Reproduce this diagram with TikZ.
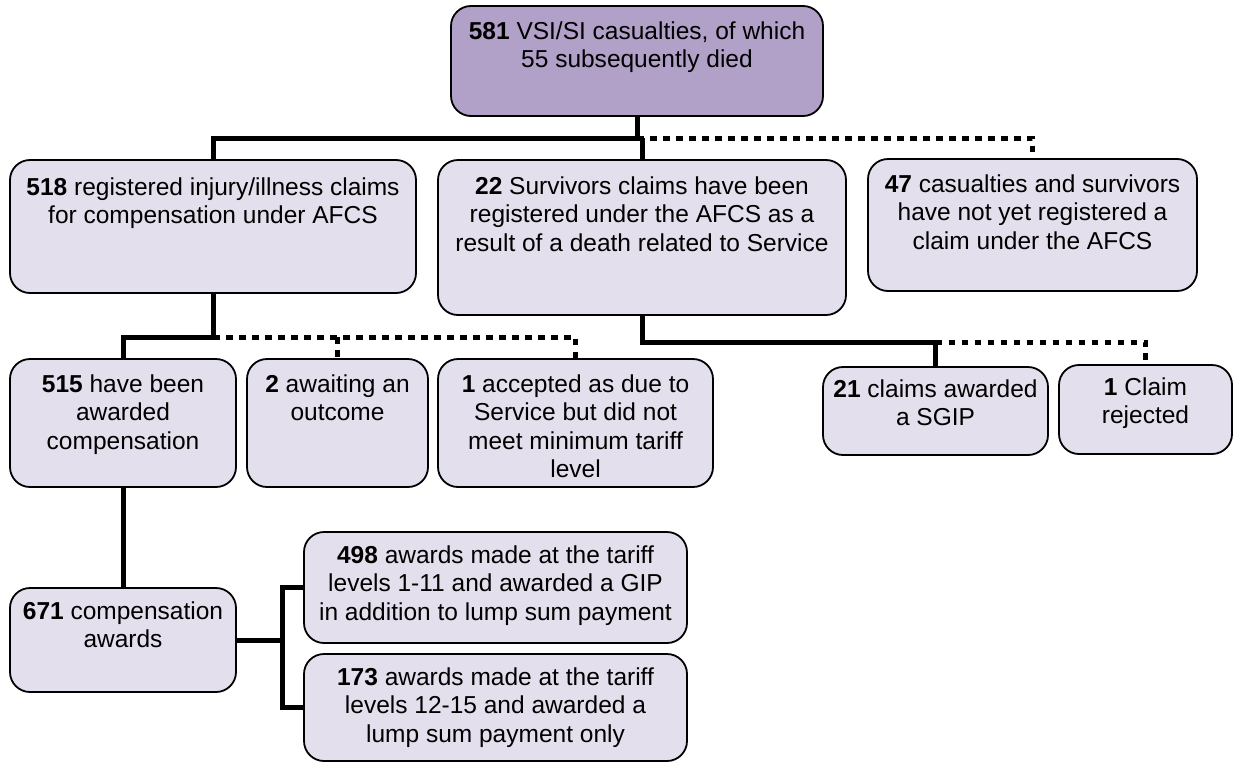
\documentclass[tikz,border=0pt]{standalone}
\usepackage{fontspec}
\setmainfont{Liberation Sans}
\usetikzlibrary{fit}
\definecolor{boxfill}{HTML}{E4DFEC}
\definecolor{topfill}{HTML}{B1A0C7}
\begin{document}
\begin{tikzpicture}[x=0.5bp,y=-0.5bp,
  box/.style={draw=black, line width=0.9bp, fill=boxfill, rounded corners=10bp, inner sep=0pt},
  topbox/.style={box, fill=topfill},
  txt/.style={anchor=north, inner sep=0pt, align=center, font=\fontsize{12.25bp}{14.25bp}\selectfont},
  conn/.style={line width=2.5bp, line join=miter},
  dotline/.style={line width=2.5bp, dash pattern=on 3.3bp off 3.2bp}]
\useasboundingbox (0,0) rectangle (1234,763);

% boxes
\node[topbox, fit={(451,6) (823,116)}] (T) {};
\node[box, fit={(10,160) (416,293)}] (A) {};
\node[box, fit={(438,160) (846,315)}] (B) {};
\node[box, fit={(868,159) (1197,291)}] (C) {};
\node[box, fit={(10,359) (236,487)}] (D) {};
\node[box, fit={(247,359) (428,487)}] (E) {};
\node[box, fit={(438,359) (713,487)}] (F) {};
\node[box, fit={(823,367) (1048,455)}] (G) {};
\node[box, fit={(1059,365) (1232,454)}] (H) {};
\node[box, fit={(10,588) (236,692)}] (I) {};
\node[box, fit={(304,532) (687,643)}] (J) {};
\node[box, fit={(304,654) (687,761)}] (K) {};

% texts
\node[txt] (tT) at (637,21) {\textbf{581} VSI/SI casualties, of which\\55 subsequently died};
\node[txt] (tA) at (213,177) {\textbf{518} registered injury/illness claims\\for compensation under AFCS};
\node[txt] (tB) at (642,176) {\textbf{22} Survivors claims have been\\registered under the AFCS as a\\result of a death related to Service};
\node[txt] (tC) at (1032.5,174) {\textbf{47} casualties and survivors\\have not yet registered a\\claim under the AFCS};
\node[txt] (tD) at (123,374) {\textbf{515} have been\\awarded\\compensation};
\node[txt] (tE) at (337.5,374) {\textbf{2} awaiting an\\outcome};
\node[txt] (tF) at (575.5,374) {\textbf{1} accepted as due to\\Service but did not\\meet minimum tariff\\level};
\node[txt] (tG) at (935.5,379) {\textbf{21} claims awarded\\a SGIP};
\node[txt] (tH) at (1145.5,377) {\textbf{1} Claim\\rejected};
\node[txt] (tI) at (123,601) {\textbf{671} compensation\\awards};
\node[txt] (tJ) at (495.5,545) {\textbf{498} awards made at the tariff\\levels 1-11 and awarded a GIP\\in addition to lump sum payment};
\node[txt] (tK) at (495.5,667) {\textbf{173} awards made at the tariff\\levels 12-15 and awarded a\\lump sum payment only};

% junctions
\coordinate (jT) at (637,138);
\coordinate (jA) at (213,337);
\coordinate (jB) at (642,342);
\coordinate (jI) at (282,640);

% connectors
\draw[conn] (T.south) -- (jT) -| (A.north);
\draw[conn] (jT -| B.north) -- (B.north);
\draw[dotline] (jT) -| (C.north);

\draw[conn] (A.south) -- (jA) -| (D.north);
\draw[dotline] (jA) -| (F.north);
\draw[dotline] (jA -| E.north) -- (E.north);

\draw[conn] (B.south) -- (jB) -| (G.north);
\draw[dotline] (G.north |- jB) -| (H.north);

\draw[conn] (D.south) -- (I.north);
\draw[conn] (I.east) -- (jI);
\draw[conn] (J.west) -| (jI) |- (K.west);
\end{tikzpicture}
\end{document}
